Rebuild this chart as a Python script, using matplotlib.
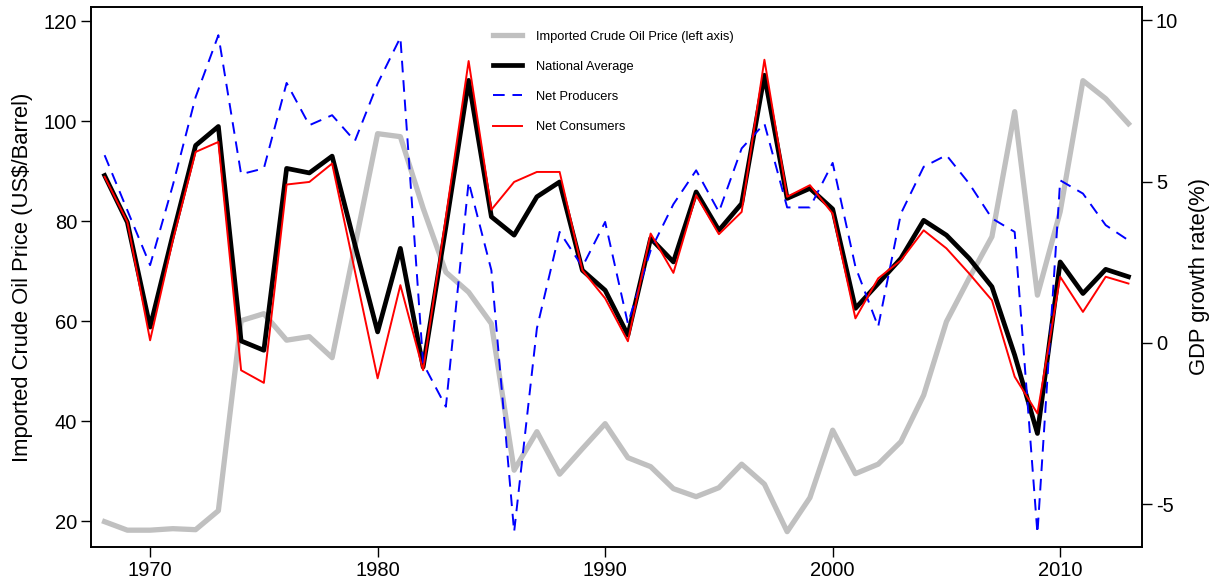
import numpy as np
import matplotlib.pyplot as plt

plt.rcParams['font.family'] = ['Liberation Sans', 'DejaVu Sans']
plt.rcParams['axes.unicode_minus'] = False

years = np.arange(1968, 2014)

oil_price = [19.9, 18.2, 18.2, 18.5, 18.3, 22.1, 60.1, 61.5, 56.2, 56.9,
             52.7, 75.0, 97.5, 96.9, 82.6, 69.8, 65.8, 59.5, 30.2, 37.9,
             29.4, 34.5, 39.5, 32.7, 30.9, 26.5, 24.9, 26.7, 31.4, 27.4,
             17.9, 24.7, 38.2, 29.5, 31.4, 35.9, 45.2, 59.9, 68.6, 76.9,
             101.9, 65.2, 81.9, 108.1, 104.5, 99.5]

national_avg = [5.19, 3.74, 0.49, 3.35, 6.12, 6.71, 0.06, -0.23, 5.41, 5.27,
                5.79, 3.05, 0.34, 2.93, -0.75, 3.60, 8.14, 3.91, 3.34, 4.53,
                4.99, 2.25, 1.63, 0.24, 3.24, 2.51, 4.68, 3.49, 4.32, 8.30,
                4.48, 4.79, 4.15, 1.07, 1.84, 2.62, 3.80, 3.34, 2.62, 1.74,
                -0.38, -2.81, 2.51, 1.53, 2.28, 2.05]

net_producers = [5.82, 4.11, 2.41, 4.89, 7.62, 9.54, 5.23, 5.41, 8.06, 6.75,
                 7.06, 6.26, 8.04, 9.47, -0.64, -1.98, 4.99, 2.25, -5.86, 0.45,
                 3.44, 2.36, 3.75, 0.60, 2.87, 4.30, 5.35, 4.06, 6.03, 6.80,
                 4.20, 4.20, 5.58, 2.36, 0.50, 4.01, 5.46, 5.82, 4.94, 3.86,
                 3.44, -5.91, 5.04, 4.63, 3.65, 3.18]

net_consumers = [5.15, 3.75, 0.08, 3.18, 5.92, 6.23, -0.85, -1.24, 4.91, 4.99,
                 5.56, 2.23, -1.10, 1.79, -0.85, 3.90, 8.74, 4.13, 4.99, 5.30,
                 5.30, 2.25, 1.38, 0.05, 3.39, 2.17, 4.58, 3.37, 4.06, 8.78,
                 4.53, 4.89, 4.01, 0.76, 2.00, 2.56, 3.49, 2.93, 2.15, 1.32,
                 -1.05, -2.19, 2.05, 0.96, 2.05, 1.84]

fig = plt.figure(figsize=(12.11, 5.82), dpi=100)
ax = fig.add_axes([0.0751, 0.0607, 0.868, 0.927])
ax2 = ax.twinx()

l1, = ax.plot(years, oil_price, color='#c0c0c0', lw=3.8,
              label='Imported Crude Oil Price (left axis)')
l2, = ax2.plot(years, national_avg, color='black', lw=3.4, label='National Average')
l3, = ax2.plot(years, net_producers, color='blue', lw=1.4, dashes=(6, 4),
               label='Net Producers')
l4, = ax2.plot(years, net_consumers, color='red', lw=1.4, label='Net Consumers')

ax.set_xlim(1967.4, 2013.6)
ax.set_ylim(14.9, 122.8)
ax2.set_ylim(-6.32, 10.41)
ax.set_xticks([1970, 1980, 1990, 2000, 2010])
ax.set_yticks([20, 40, 60, 80, 100, 120])
ax2.set_yticks([-5, 0, 5, 10])

for a in (ax, ax2):
    a.tick_params(direction='out', length=7, width=1, labelsize=14.5, pad=3)
    for s in a.spines.values():
        s.set_linewidth(1.2)

ax.set_ylabel('Imported Crude Oil Price (US$/Barrel)', fontsize=15.8, labelpad=8)
ax2.set_ylabel('GDP growth rate(%)', fontsize=15.8, labelpad=8)

ax2.legend(handles=[l1, l2, l3, l4], loc='upper left',
           bbox_to_anchor=(0.371, 0.978), frameon=False, fontsize=9.3,
           labelspacing=1.4, handlelength=2.3, handletextpad=1.05)

fig.savefig('out.png', dpi=100)
